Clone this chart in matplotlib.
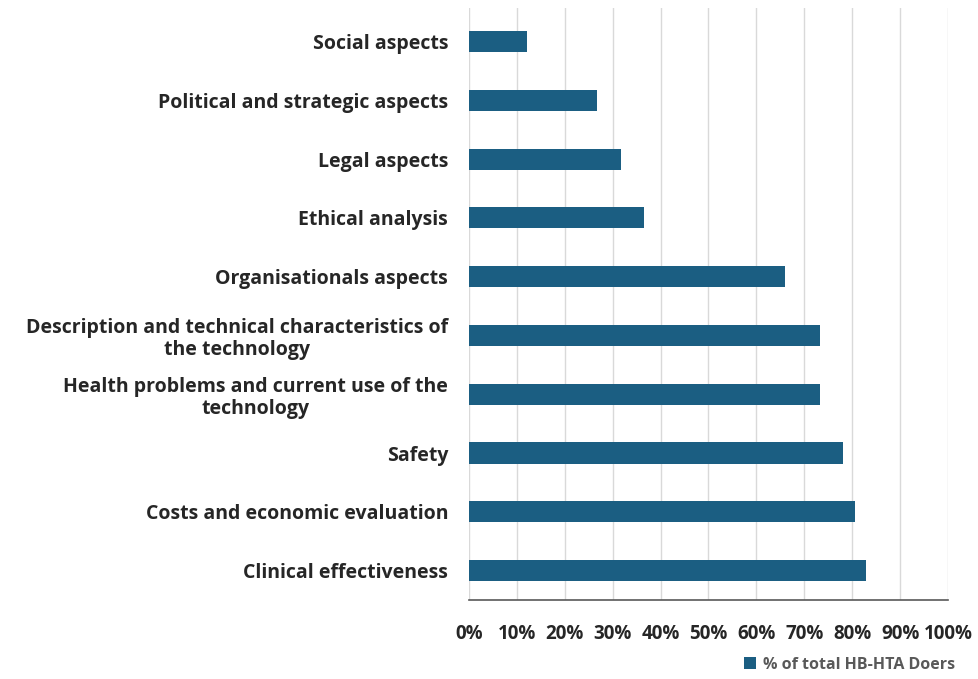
import numpy as np
import matplotlib.pyplot as plt

categories = [
    'Social aspects',
    'Political and strategic aspects',
    'Legal aspects',
    'Ethical analysis',
    'Organisationals aspects',
    'Description and technical characteristics of\nthe technology',
    'Health problems and current use of the\ntechnology',
    'Safety',
    'Costs and economic evaluation',
    'Clinical effectiveness',
]
values = [12.2, 26.8, 31.7, 36.6, 65.9, 73.2, 73.2, 78.0, 80.5, 82.9]
xticks = [0, 10, 20, 30, 40, 50, 60, 70, 80, 90, 100]
series_label = '% of total HB-HTA Doers'

bar_color = '#1b5e82'
text_color = '#262626'

plt.rcParams['font.family'] = ['Open Sans', 'DejaVu Sans']

fig = plt.figure(figsize=(9.79, 6.79), dpi=100)
ax = fig.add_axes([469 / 979, 1 - 600 / 679, (948 - 469) / 979, (600 - 8) / 679])

y = np.arange(len(categories))
ax.barh(y, values, height=0.36, color=bar_color, label=series_label, zorder=3)

ax.set_ylim(len(categories) - 0.5, -0.57)
ax.set_xlim(0, 100)
ax.set_xticks(xticks)
ax.set_xticklabels([f'{t}%' for t in xticks], fontsize=13.5, fontweight='bold',
                   color=text_color)
ax.set_yticks(y)
ax.set_yticklabels(categories, fontsize=14, fontweight='bold', color=text_color,
                   ha='right', multialignment='center', linespacing=1.15)
ax.tick_params(axis='y', length=0, pad=15)
ax.tick_params(axis='x', length=0, pad=17)

ax.grid(axis='x', color='#d9d9d9', linewidth=1, zorder=0)
for s in ['top', 'right', 'left']:
    ax.spines[s].set_visible(False)
ax.spines['bottom'].set_color('#595959')
ax.spines['bottom'].set_linewidth(1.2)

fig.legend(loc='lower right', bbox_to_anchor=(0.99, -0.012), frameon=False,
           labelcolor='#595959', handlelength=0.8, handleheight=0.8,
           handletextpad=0.4, prop={'weight': 'bold', 'size': 11.5})

plt.savefig('out.png', dpi=100)
